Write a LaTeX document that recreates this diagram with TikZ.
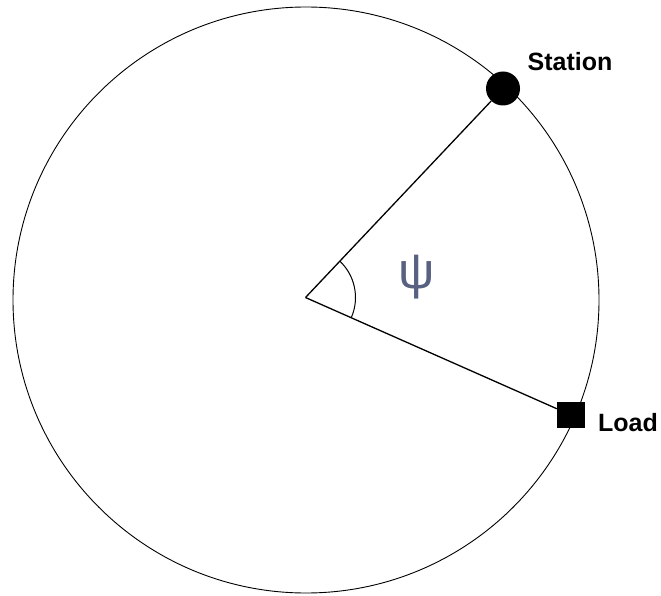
\documentclass[tikz,border=0pt]{standalone}
\usepackage{fontspec}
\setmainfont{Liberation Sans}
\usepackage{xcolor}
\usetikzlibrary{positioning}
\usetikzlibrary{angles}

\definecolor{psicolor}{RGB}{88,98,128}

\tikzset{
  lbl/.style={font=\fontsize{25}{30}\selectfont\bfseries, inner sep=0pt},
  radius line/.style={line width=1.3pt},
}

\begin{document}
\begin{tikzpicture}[x=1pt, y=-1pt]
  \useasboundingbox (0,0) rectangle (661,596);
  \coordinate (o) at (305.5,297.5);
  \draw[line width=0.9pt] (306,300) circle[radius=293pt];
  \node[circle, fill=black, minimum size=34pt, inner sep=0pt] (station) at (503,88.5) {};
  \node[rectangle, fill=black, minimum width=28pt, minimum height=26pt, inner sep=0pt] (load) at (571,415) {};
  \draw[radius line] (o) -- (station);
  \draw[radius line] (o) -- (load);
  \pic[draw, angle radius=50pt, line width=1pt] {angle=load--o--station};
  \node[lbl] (stationlbl) at (570,62) {Station};
  \node[lbl] (loadlbl) at (628,423) {Load};
  \node[font=\fontsize{51}{56}\selectfont, text=psicolor, inner sep=0pt] (psi) at (417,277) {ψ};
\end{tikzpicture}
\end{document}
